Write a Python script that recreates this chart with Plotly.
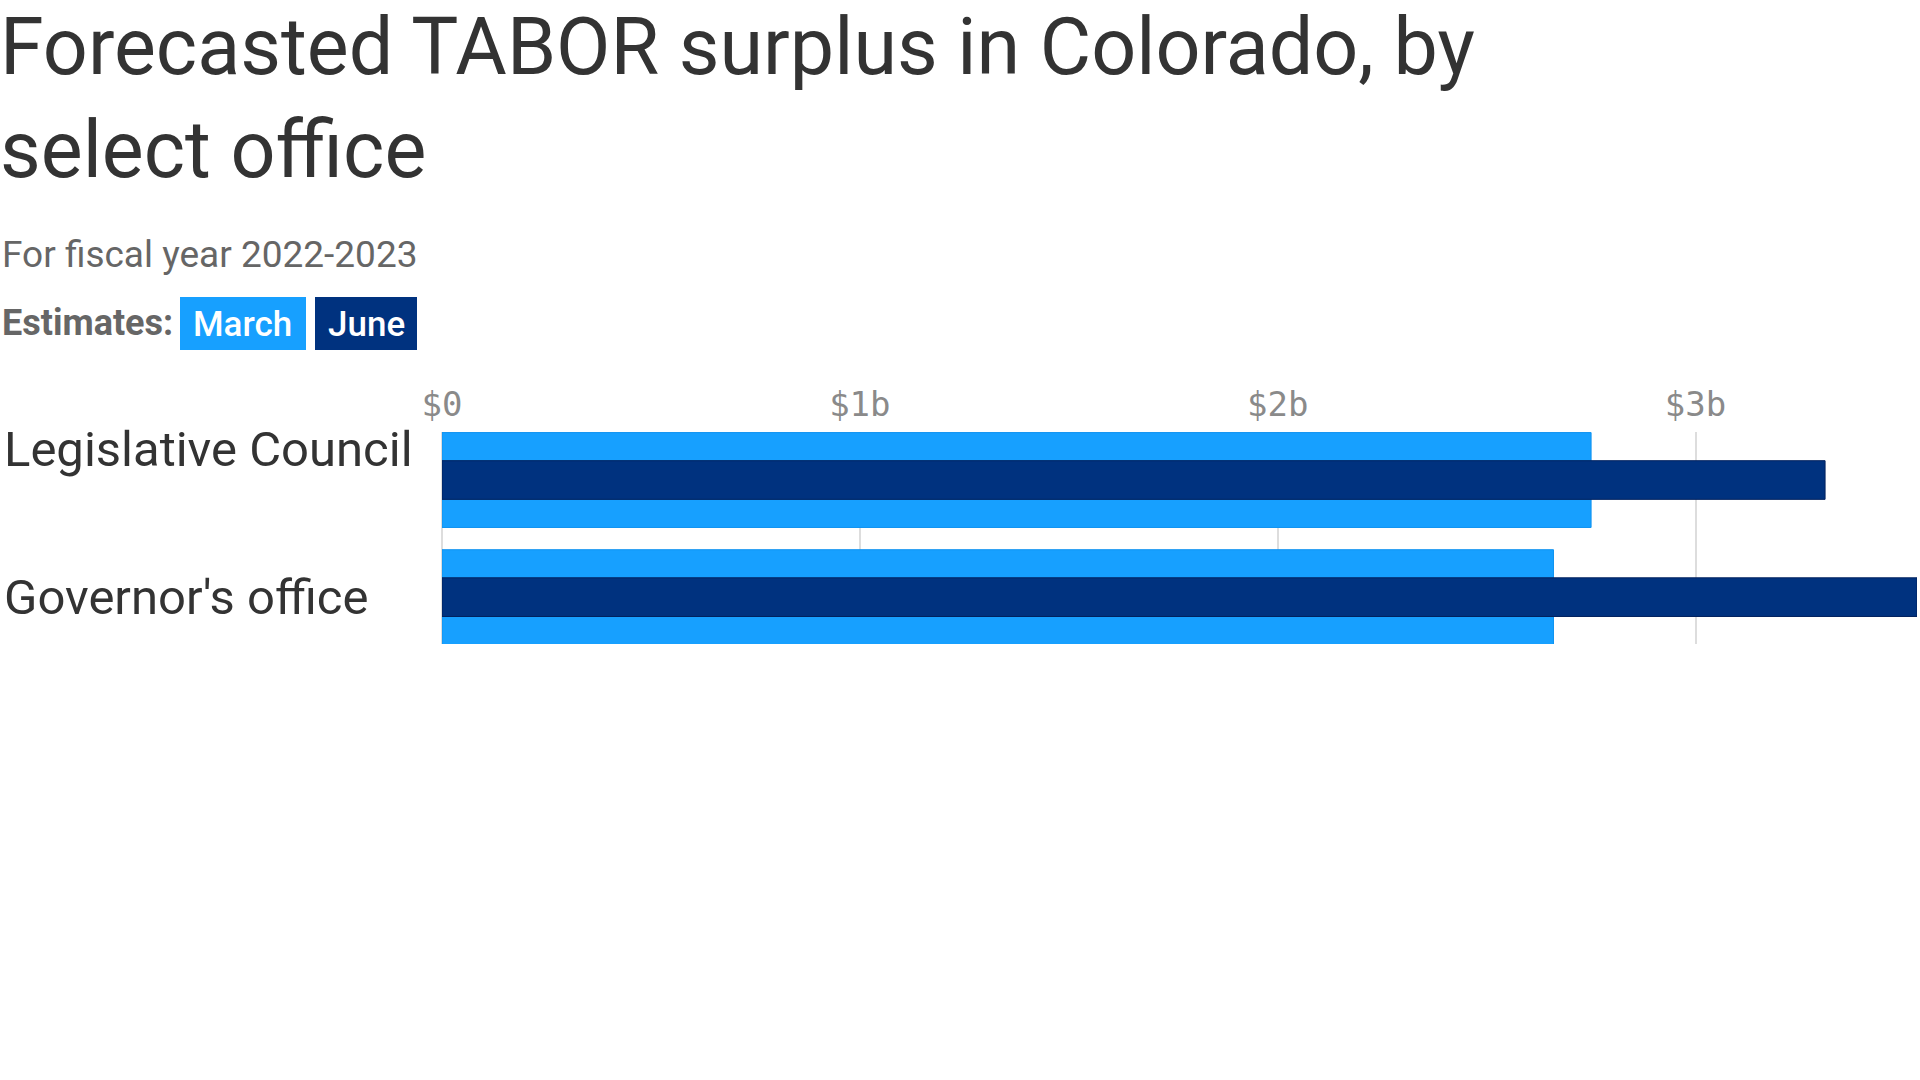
import plotly.graph_objects as go

# ---- data ----
offices = ["Legislative Council", "Governor's office"]
march_estimates = [2.75, 2.66]   # $ billions
june_estimates = [3.31, 3.53]    # $ billions
tick_values = [0, 1, 2, 3]
tick_labels = ["$0", "$1b", "$2b", "$3b"]

MARCH_COLOR = "#17A0FF"
JUNE_COLOR = "#00327F"
W, H = 1920, 1080
L, R, T, B = 442, 3, 432, 436
PW = W - L - R
PH = H - T - B

def px_x(xpix):
    return (xpix - L) / PW

def px_y(ypix):
    return (H - B - ypix) / PH

fig = go.Figure()
fig.add_trace(go.Bar(
    y=offices, x=march_estimates, orientation="h", name="March",
    marker=dict(color=MARCH_COLOR, line=dict(color="#0E92F0", width=1)),
    width=0.81, hoverinfo="x+y",
))
fig.add_trace(go.Bar(
    y=offices, x=june_estimates, orientation="h", name="June",
    marker=dict(color=JUNE_COLOR, line=dict(color="#00205E", width=1)),
    width=0.33, hoverinfo="x+y",
))

fig.update_layout(
    width=W, height=H,
    margin=dict(l=L, r=R, t=T, b=B),
    paper_bgcolor="white", plot_bgcolor="white",
    barmode="overlay", showlegend=False,
    font=dict(family="Roboto", color="#333333"),
    title=dict(
        text="Forecasted TABOR surplus in Colorado, by<br>select office",
        x=0, xref="container", xanchor="left",
        y=1 - 74 / H, yref="container", yanchor="top",
        font=dict(family="Roboto", size=79, color="#333333"),
    ),
    xaxis=dict(
        range=[0, max(june_estimates)], side="top",
        tickvals=tick_values, ticktext=tick_labels,
        tickfont=dict(family="DejaVu Sans Mono", size=34, color="#8A8A8A"),
        ticklabelstandoff=8,
        showgrid=True, gridcolor="#DDDDDD", gridwidth=1.5,
        zeroline=True, zerolinecolor="#DDDDDD", zerolinewidth=1.5,
        showline=False, ticks="", fixedrange=True,
    ),
    yaxis=dict(
        categoryorder="array", categoryarray=offices,
        range=[1.40, -0.41], showticklabels=False, showgrid=False,
        zeroline=False, showline=False, ticks="", fixedrange=True,
    ),
)

# category labels (left aligned)
label_y = [449, 597]
for name, yp in zip(offices, label_y):
    fig.add_annotation(
        text=name, x=px_x(2), y=px_y(yp), xref="paper", yref="paper",
        xanchor="left", yanchor="middle", showarrow=False,
        font=dict(family="Roboto", size=49, color="#333333"),
    )

# subtitle
fig.add_annotation(
    text="For fiscal year 2022-2023", x=px_x(0), y=px_y(254),
    xref="paper", yref="paper", xanchor="left", yanchor="middle",
    showarrow=False, font=dict(family="Roboto", size=37, color="#666666"),
)

# legend row
fig.add_annotation(
    text="<b>Estimates:</b>", x=px_x(0), y=px_y(323),
    xref="paper", yref="paper", xanchor="left", yanchor="middle",
    showarrow=False, font=dict(family="Roboto", size=36, color="#666666"),
)
boxes = [("March", MARCH_COLOR, 180, 306), ("June", JUNE_COLOR, 315, 417)]
for label, col, x0, x1 in boxes:
    fig.add_shape(
        type="rect", xref="paper", yref="paper",
        x0=px_x(x0), x1=px_x(x1), y0=px_y(350), y1=px_y(297),
        fillcolor=col, line=dict(width=0), layer="above",
    )
    fig.add_annotation(
        text=label, x=px_x((x0 + x1) / 2), y=px_y(324),
        xref="paper", yref="paper", xanchor="center", yanchor="middle",
        showarrow=False,
        font=dict(family="Roboto", size=35, color="white", weight=500),
    )

fig.write_html("out.html")
